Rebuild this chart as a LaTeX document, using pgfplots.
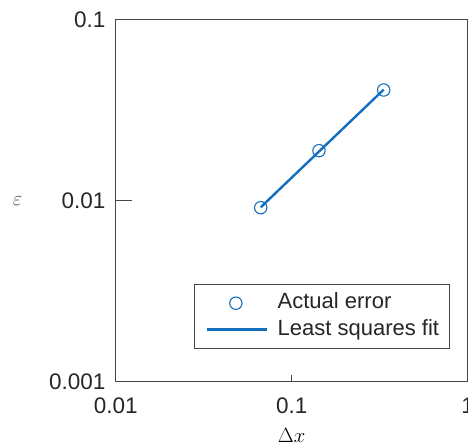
\documentclass[border=0pt]{standalone}
\usepackage{fontspec}
\setmainfont{Liberation Sans}
\usepackage{pgfplots}
\pgfplotsset{compat=1.18}
\definecolor{fitblue}{RGB}{20,110,190}
\definecolor{axgray}{RGB}{70,70,70}
\pgfplotsset{
  marklegend/.style={legend image code/.code={\draw[mark repeat=2,mark phase=2,##1] plot coordinates {(0bp,0bp) (29bp,0bp) (58bp,0bp)};}},
  linelegend/.style={legend image code/.code={\draw[##1, line width=3bp] (0bp,0bp) -- (60bp,0bp);}},
}
\begin{document}
\begin{tikzpicture}
\begin{axis}[
  at={(0,0)}, anchor=south west,
  scale only axis, width=352bp, height=362bp,
  xmode=log, ymode=log,
  xmin=0.01, xmax=1, ymin=0.001, ymax=0.1,
  xtick={0.01,0.1,1}, xticklabels={0.01,0.1,1},
  ytick={0.001,0.01,0.1}, yticklabels={0.001,0.01,0.1},
  xminorticks=false, yminorticks=false,
  xtick pos=bottom, ytick pos=left,
  tick align=inside,
  x tick style={/pgfplots/major tick length=7bp, axgray, line width=1.2bp},
  y tick style={/pgfplots/major tick length=16bp, axgray, line width=1.2bp},
  axis line style={axgray, line width=1.3bp},
  every axis/.append style={font=\fontsize{22bp}{26bp}\selectfont},
  ticklabel style={font=\fontsize{22.5bp}{26bp}\selectfont, text=black!85},
  xticklabel style={anchor=north, inner sep=0pt, yshift=-16bp},
  yticklabel style={anchor=east, inner sep=0pt, xshift=-10bp},
  xlabel={$\Delta x$},
  ylabel={$\varepsilon$},
  xlabel style={at={(axis description cs:0.5,0)}, anchor=north, inner sep=0pt, yshift=-46bp, font=\fontsize{22bp}{26bp}\selectfont},
  ylabel style={at={(axis description cs:0,0.5)}, anchor=center, rotate=-90, inner sep=0pt, xshift=-98bp, font=\fontsize{20bp}{24bp}\selectfont, text=black!70},
  legend style={at={(1,0)}, anchor=south east, xshift=-17.4bp, yshift=32.7bp,
    draw=axgray, line width=1.2bp, inner xsep=10.6bp, inner ysep=8bp,
    font=\fontsize{22bp}{26bp}\selectfont, text=black!85,
    column sep=9.3bp, row sep=5.7bp,
    nodes={inner sep=0pt, text height=16bp, text depth=5bp}},
  legend cell align=left,
]
\addplot[only marks, mark=o, mark size=6.2bp, fitblue, line width=1.1bp, marklegend]
  coordinates {(0.0667,0.00915) (0.1429,0.0189) (0.3333,0.0409)};
\addlegendentry{Actual error}
\addplot[fitblue, line width=2.4bp, no marks, linelegend]
  coordinates {(0.0667,0.0092) (0.3333,0.0411)};
\addlegendentry{Least squares fit}
\end{axis}
\pgfresetboundingbox
\path (-115.7bp,-62.3bp) rectangle (352.3bp,381.7bp);
\end{tikzpicture}
\end{document}
